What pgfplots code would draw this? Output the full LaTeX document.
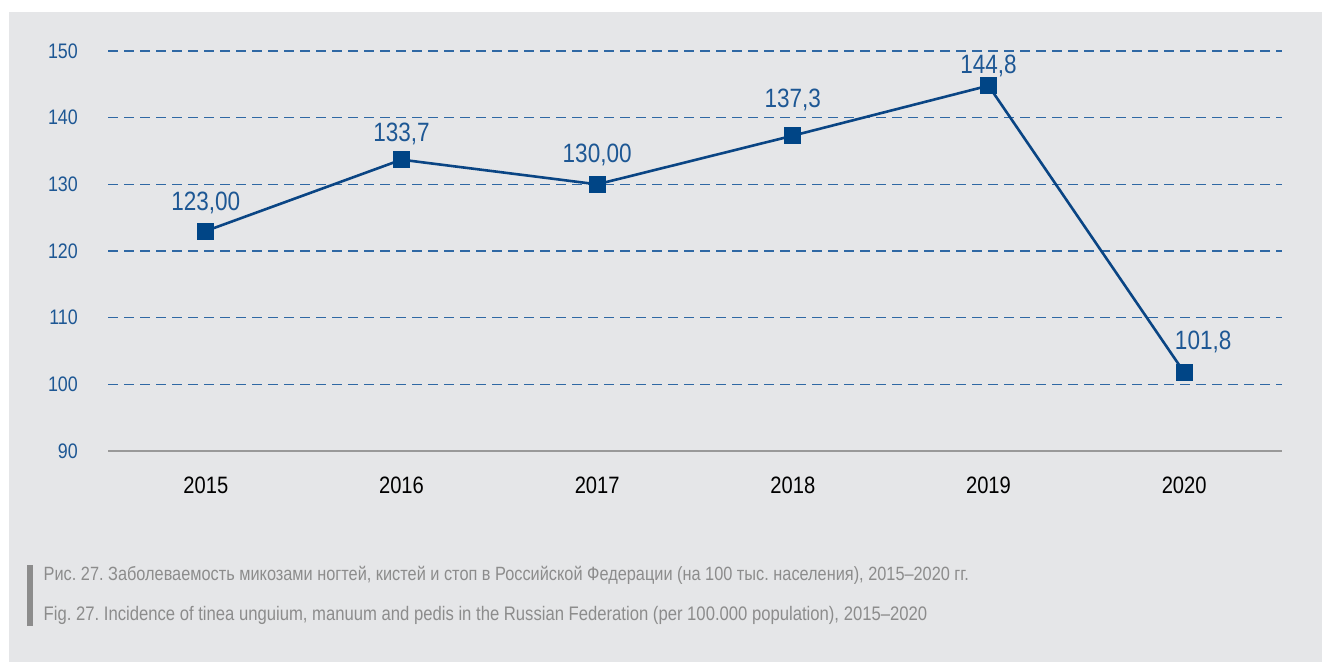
\documentclass[border=0pt]{standalone}
\usepackage{fontspec}
\setmainfont{Liberation Sans}[FakeStretch=0.85]
\usepackage{pgfplots}
\pgfplotsset{compat=1.18}
\definecolor{bg}{HTML}{E5E6E8}
\definecolor{gridblue}{HTML}{2F68A4}
\definecolor{tickblue}{HTML}{1D5794}
\definecolor{lineblue}{HTML}{0A4584}
\definecolor{markblue}{HTML}{004586}
\definecolor{axisgray}{HTML}{999999}
\definecolor{captiongray}{HTML}{8C8C8C}
\pgfplotstableread{
x y dx dy label
0 123.0 0 21 123,00
1 133.7 0 18 133,7
2 130.0 0 22 130,00
3 137.3 0 28 137,3
4 144.8 0 12 144,8
5 101.8 19 23 101,8
}\incidence
\begin{document}
\frenchspacing
\begin{tikzpicture}[x=1pt,y=1pt]
\fill[white] (0,0) rectangle (1322,662);
\fill[bg] (9,0) rectangle (1322,650);
\begin{axis}[
  at={(108pt,211pt)}, anchor=south west,
  width=1174pt, height=400pt, scale only axis,
  xmin=-0.5, xmax=5.5, ymin=90, ymax=150,
  xtick={0,1,2,3,4,5},
  xticklabels={2015,2016,2017,2018,2019,2020},
  ytick={90,100,110,120,130,140,150},
  axis x line*=bottom,
  axis y line*=left,
  x axis line style={axisgray, line width=2.7pt, -},
  y axis line style={draw=none},
  major tick length=0pt,
  ymajorgrids,
  major grid style={gridblue, line width=1.2pt, dash pattern=on 10pt off 6pt},
  /pgf/number format/assume math mode=true,
  yticklabel style={tickblue, font=\fontsize{21}{25}\selectfont, anchor=east, inner sep=0pt, xshift=-30pt},
  xticklabel style={black, font=\fontsize{23.7}{28}\selectfont, anchor=north, inner sep=0pt, yshift=-26pt},
  clip=false,
]
\addplot[lineblue, line width=2.6pt, mark=square*, mark size=8pt,
  mark options={fill=markblue, draw=markblue, line width=0pt},
  visualization depends on={\thisrow{dx} \as \dxv},
  visualization depends on={\thisrow{dy} \as \dyv},
  point meta=explicit symbolic,
  nodes near coords={\pgfplotspointmeta},
  nodes near coords style={anchor=base, inner sep=0pt, tickblue,
    font=\fontsize{26.5}{30}\selectfont, xshift=\dxv pt, yshift=\dyv pt},
] table[x=x, y=y, meta=label] {\incidence};
\end{axis}
\fill[captiongray] (27,36) rectangle (33,97);
\node[anchor=base west, inner sep=0pt, text=captiongray, font=\fontsize{19.2}{23}\selectfont] at (43.5,82) {Рис. 27. Заболеваемость микозами ногтей, кистей и стоп в Российской Федерации (на 100 тыс. населения), 2015–2020 гг.};
\node[anchor=base west, inner sep=0pt, text=captiongray, font=\fontsize{19.6}{23}\selectfont] at (43.5,42) {Fig. 27. Incidence of tinea unguium, manuum and pedis in the Russian Federation (per 100.000 population), 2015–2020};
\end{tikzpicture}
\end{document}
